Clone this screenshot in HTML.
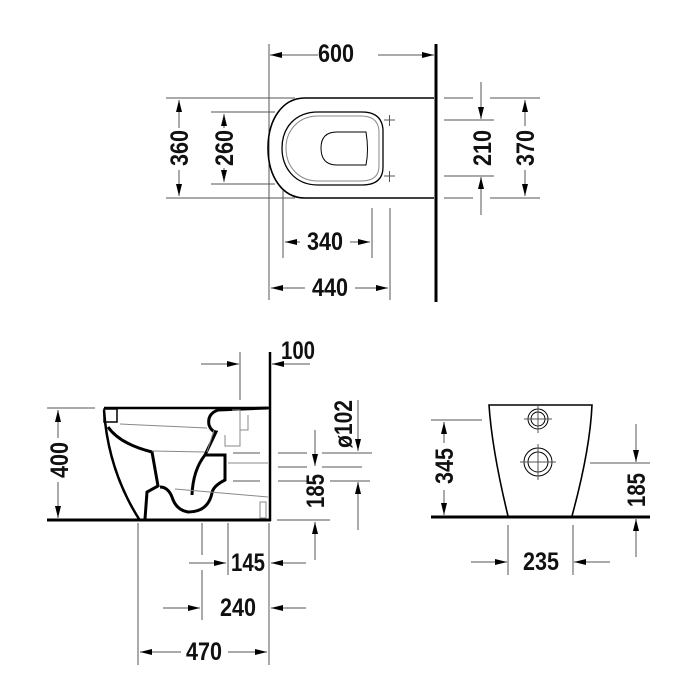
<!DOCTYPE html>
<html><head><meta charset="utf-8"><style>
html,body{margin:0;padding:0;background:#fff;}
svg{display:block}
text{font-family:"Liberation Sans Narrow","Liberation Sans",sans-serif;font-weight:bold;font-size:25px;fill:#111;text-anchor:middle;dominant-baseline:central}
.d{stroke:#555;stroke-width:1;fill:none}
.k{stroke:#000;stroke-width:2;fill:none}
.K{stroke:#000;stroke-width:4;fill:none}
.t{stroke:#888;stroke-width:1;fill:none}
</style></head><body>
<svg width="700" height="700" viewBox="0 0 700 700" xmlns="http://www.w3.org/2000/svg">
<defs>
<marker id="a" markerWidth="12" markerHeight="8" refX="12" refY="4" orient="auto" markerUnits="userSpaceOnUse"><path d="M0,1 L12,4 L0,7 Z" fill="#000"/></marker>
</defs>
<!-- TOP VIEW -->
<line x1="436" y1="44" x2="436" y2="302" class="K" style="stroke-width:3"/>
<line x1="269" y1="44" x2="269" y2="300" class="d"/>
<line x1="318" y1="55" x2="270" y2="55" class="d" marker-end="url(#a)"/>
<line x1="378" y1="55" x2="434" y2="55" class="d" marker-end="url(#a)"/>
<text x="336" y="54" textLength="36" lengthAdjust="spacingAndGlyphs">600</text>
<path d="M434,98 L305,98 C282,98 268,120 268,148 C268,176 282,198 305,198 L434,198" class="k" style="stroke-width:1.6"/>
<path d="M362,112 Q382,112 383,130 L383,167 Q383,185 362,185 L318,185 C295,185 282,168 282,148 C282,128 295,112 318,112 Z" class="k" style="stroke-width:1.3"/>
<path d="M361,116 Q378,116 379,131 L379,166 Q379,181 361,181 L318,181 C298,181 286,166 286,148 C286,131 298,116 318,116 Z" class="t"/>
<path d="M366,132 L337,132 Q321,132 321,148 Q321,165 337,165 L366,165 Q369,150 366,132 Z" class="k" style="stroke-width:1"/>
<g class="d"><path d="M384,120h11M389.5,115v11M384,176h11M389.5,171v11"/></g>
<line x1="166" y1="98" x2="295" y2="98" class="d"/><line x1="166" y1="198" x2="295" y2="198" class="d"/>
<line x1="179" y1="128" x2="179" y2="100" class="d" marker-end="url(#a)"/>
<line x1="179" y1="170" x2="179" y2="196" class="d" marker-end="url(#a)"/>
<text transform="translate(180,148) rotate(-90)" textLength="36" lengthAdjust="spacingAndGlyphs">360</text>
<line x1="211" y1="112" x2="275" y2="112" class="d"/><line x1="211" y1="184" x2="275" y2="184" class="d"/>
<line x1="224" y1="128" x2="224" y2="114" class="d" marker-end="url(#a)"/>
<line x1="224" y1="168" x2="224" y2="182" class="d" marker-end="url(#a)"/>
<text transform="translate(225,148) rotate(-90)" textLength="36" lengthAdjust="spacingAndGlyphs">260</text>
<line x1="283" y1="190" x2="283" y2="258" class="d"/><line x1="372" y1="208" x2="372" y2="258" class="d"/>
<line x1="300" y1="242" x2="285" y2="242" class="d" marker-end="url(#a)"/>
<line x1="350" y1="242" x2="370" y2="242" class="d" marker-end="url(#a)"/>
<text x="325" y="242" textLength="36" lengthAdjust="spacingAndGlyphs">340</text>
<line x1="390" y1="208" x2="390" y2="300" class="d"/>
<line x1="305" y1="288" x2="271" y2="288" class="d" marker-end="url(#a)"/>
<line x1="355" y1="288" x2="388" y2="288" class="d" marker-end="url(#a)"/>
<text x="330" y="288" textLength="36" lengthAdjust="spacingAndGlyphs">440</text>
<line x1="444" y1="120" x2="494" y2="120" class="d"/><line x1="444" y1="176" x2="494" y2="176" class="d"/>
<line x1="481" y1="82" x2="481" y2="119" class="d" marker-end="url(#a)"/>
<line x1="481" y1="215" x2="481" y2="177" class="d" marker-end="url(#a)"/>
<text transform="translate(483,148) rotate(-90)" textLength="36" lengthAdjust="spacingAndGlyphs">210</text>
<line x1="444" y1="98" x2="473" y2="98" class="d"/><line x1="490" y1="98" x2="540" y2="98" class="d"/>
<line x1="444" y1="198" x2="473" y2="198" class="d"/><line x1="490" y1="198" x2="540" y2="198" class="d"/>
<line x1="525" y1="126" x2="525" y2="100" class="d" marker-end="url(#a)"/>
<line x1="525" y1="170" x2="525" y2="196" class="d" marker-end="url(#a)"/>
<text transform="translate(526,148) rotate(-90)" textLength="36" lengthAdjust="spacingAndGlyphs">370</text>

<!-- SIDE VIEW -->
<line x1="47" y1="520" x2="271" y2="520" class="K" style="stroke-width:3"/>
<line x1="270" y1="352" x2="270" y2="521" class="K" style="stroke-width:2.5"/>
<line x1="47" y1="408" x2="95" y2="408" class="d"/>
<line x1="58" y1="438" x2="58" y2="410" class="d" marker-end="url(#a)"/>
<line x1="58" y1="482" x2="58" y2="518" class="d" marker-end="url(#a)"/>
<text transform="translate(60,460) rotate(-90)" textLength="36" lengthAdjust="spacingAndGlyphs">400</text>
<line x1="240" y1="352" x2="240" y2="400" class="d"/>
<line x1="201" y1="364" x2="239" y2="364" class="d" marker-end="url(#a)"/>
<line x1="310" y1="364" x2="272" y2="364" class="d" marker-end="url(#a)"/>
<text x="298" y="351" textLength="34" lengthAdjust="spacingAndGlyphs">100</text>
<!-- toilet profile -->
<path d="M104,408 L269,408" class="k" style="stroke-width:2.5"/>
<rect x="104" y="409" width="13" height="13" class="k" style="stroke-width:1.5"/>
<path d="M104,410 Q108,470 139,519" class="k" style="stroke-width:2.5"/>
<path d="M108,427 Q120,444 152,452 L158,486 L147,492 L145,519" class="k" style="stroke-width:3"/>
<path d="M268,408 L218,410 Q207,414 209,425 Q211,431 216,432 L205,455 L225,455 L225,480 Q213,486 212,493 Q208,512 188,512 Q176,510 172,497 Q168,487 160,487" class="k" style="stroke-width:3"/>
<path d="M205,455 Q193,470 192,495" class="k" style="stroke-width:3"/>
<path d="M120,424 L207,428 M152,451 L205,452 M207,452 L214,430" class="t"/>
<path d="M232,410 L240,410 L240,446 L225,446 L225,435 M240,430 L248,430 L248,415" class="t"/>
<path d="M175,489 L268,497 M228,463 L268,463" class="t"/>
<rect x="260" y="502" width="6" height="16" class="t"/>
<!-- right dims side -->
<path d="M233,453h27M278,453h29M322,453h50M278,467h29M322,467h40M233,481h27M278,481h29M330,481h40" class="d"/>
<line x1="358" y1="400" x2="358" y2="451" class="d" marker-end="url(#a)"/>
<line x1="358" y1="530" x2="358" y2="482" class="d" marker-end="url(#a)"/>
<text transform="translate(344,424) rotate(-90)" textLength="48" lengthAdjust="spacingAndGlyphs">ø102</text>
<line x1="315" y1="430" x2="315" y2="466" class="d" marker-end="url(#a)"/>
<line x1="315" y1="560" x2="315" y2="522" class="d" marker-end="url(#a)"/>
<text transform="translate(316,491) rotate(-90)" textLength="34" lengthAdjust="spacingAndGlyphs">185</text>
<line x1="277" y1="520" x2="330" y2="520" class="d"/>
<line x1="138" y1="523" x2="138" y2="665" class="d"/>
<line x1="202" y1="523" x2="202" y2="555" class="d"/><line x1="202" y1="570" x2="202" y2="620" class="d"/>
<line x1="228" y1="523" x2="228" y2="575" class="d"/>
<line x1="269" y1="523" x2="269" y2="665" class="d"/>
<line x1="189" y1="563" x2="226" y2="563" class="d" marker-end="url(#a)"/>
<line x1="306" y1="563" x2="271" y2="563" class="d" marker-end="url(#a)"/>
<text x="248" y="563" textLength="34" lengthAdjust="spacingAndGlyphs">145</text>
<line x1="163" y1="608" x2="200" y2="608" class="d" marker-end="url(#a)"/>
<line x1="306" y1="608" x2="271" y2="608" class="d" marker-end="url(#a)"/>
<text x="238" y="608" textLength="36" lengthAdjust="spacingAndGlyphs">240</text>
<line x1="181" y1="652" x2="140" y2="652" class="d" marker-end="url(#a)"/>
<line x1="228" y1="652" x2="267" y2="652" class="d" marker-end="url(#a)"/>
<text x="204" y="652" textLength="36" lengthAdjust="spacingAndGlyphs">470</text>

<!-- FRONT VIEW -->
<line x1="431" y1="517" x2="650" y2="517" class="K" style="stroke-width:3"/>
<path d="M508,516 Q492,450 489,405 L592,405 Q590,450 572,516" class="k" style="stroke-width:1.6"/>
<circle cx="538" cy="419" r="10" class="k" style="stroke-width:1"/><circle cx="538" cy="419" r="7" class="k" style="stroke-width:1"/>
<path d="M524,419h28M538,405v28" class="d"/>
<circle cx="538" cy="462" r="14" class="k" style="stroke-width:1"/><circle cx="538" cy="462" r="10" class="k" style="stroke-width:1"/>
<path d="M520,462h36M538,444v36" class="d"/>
<line x1="431" y1="420" x2="482" y2="420" class="d"/>
<line x1="444" y1="443" x2="444" y2="422" class="d" marker-end="url(#a)"/>
<line x1="444" y1="490" x2="444" y2="515" class="d" marker-end="url(#a)"/>
<text transform="translate(445,466) rotate(-90)" textLength="36" lengthAdjust="spacingAndGlyphs">345</text>
<line x1="590" y1="463" x2="650" y2="463" class="d"/>
<line x1="636" y1="424" x2="636" y2="462" class="d" marker-end="url(#a)"/>
<line x1="636" y1="557" x2="636" y2="519" class="d" marker-end="url(#a)"/>
<text transform="translate(637,490) rotate(-90)" textLength="34" lengthAdjust="spacingAndGlyphs">185</text>
<line x1="508" y1="525" x2="508" y2="575" class="d"/><line x1="573" y1="525" x2="573" y2="575" class="d"/>
<line x1="471" y1="562" x2="507" y2="562" class="d" marker-end="url(#a)"/>
<line x1="610" y1="562" x2="574" y2="562" class="d" marker-end="url(#a)"/>
<text x="541" y="562" textLength="36" lengthAdjust="spacingAndGlyphs">235</text>
</svg>
</body></html>
